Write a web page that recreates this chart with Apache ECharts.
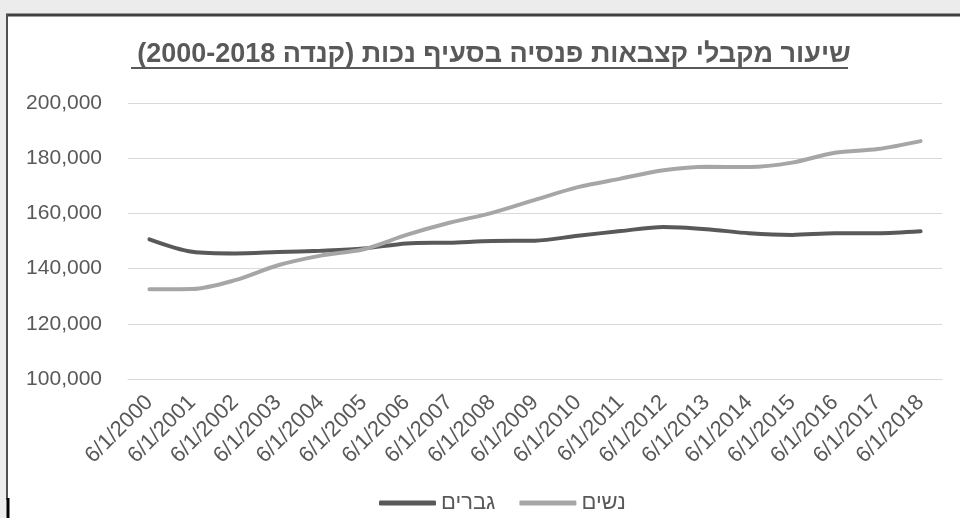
<!DOCTYPE html>
<html><head><meta charset="utf-8">
<script src="https://cdn.jsdelivr.net/npm/echarts@6/dist/echarts.min.js"></script>
<style>html,body{margin:0;padding:0;background:#fff}#c{width:960px;height:518px}</style>
</head><body><div id="c"></div>
<script>
const categories = ['6/1/2000','6/1/2001','6/1/2002','6/1/2003','6/1/2004','6/1/2005','6/1/2006','6/1/2007','6/1/2008','6/1/2009','6/1/2010','6/1/2011','6/1/2012','6/1/2013','6/1/2014','6/1/2015','6/1/2016','6/1/2017','6/1/2018'];
const men = [150600,146100,145500,146000,146500,147300,149100,149400,150000,150100,151900,153600,155100,154300,152800,152200,152800,152800,153500];
const women = [132500,132600,135800,141200,144700,147000,152200,156600,160200,164900,169500,172600,175600,176900,176800,178400,182000,183300,186200];
const seriesNames = ['גברים','נשים'];
const titleText = 'שיעור מקבלי קצבאות פנסיה בסעיף נכות (קנדה 2000-2018)';

const chart = echarts.init(document.getElementById('c'));
const font = '"Liberation Sans", Arial, sans-serif';
chart.setOption({
  backgroundColor: '#fff',
  animation: false,
  graphic: [
    {type:'rect', z:-10, shape:{x:0,y:0,width:960,height:518}, style:{fill:'#ececec'}},
    {type:'rect', z:-9, shape:{x:7,y:15,width:953,height:503}, style:{fill:'#ffffff'}},
    {type:'line', z:-8, shape:{x1:6,y1:15,x2:960,y2:15}, style:{stroke:'#404040',lineWidth:3}},
    {type:'line', z:-8, shape:{x1:7,y1:14,x2:7,y2:500}, style:{stroke:'#505050',lineWidth:2}},
    {type:'line', z:-8, shape:{x1:8,y1:498,x2:8,y2:518}, style:{stroke:'#000',lineWidth:3}},
    {type:'line', z:10, shape:{x1:131,y1:68,x2:848,y2:68}, style:{stroke:'#595959',lineWidth:2}}
  ],
  title: {
    text: titleText,
    left: 489, top: 36, textAlign: 'center',
    textStyle: {fontFamily: font, fontSize: 27, fontWeight: 'bold', color: '#595959'}
  },
  legend: {
    data: seriesNames,
    top: 487, left: 374,
    icon: 'roundRect',
    itemWidth: 57, itemHeight: 5, itemGap: 24,
    textStyle: {fontFamily: font, fontSize: 22, color: '#595959'}
  },
  grid: {left: 128, right: 18, top: 103, bottom: 139, containLabel: false},
  xAxis: {
    type: 'category', data: categories, boundaryGap: true,
    axisLine: {show: true, lineStyle: {color: '#d9d9d9'}},
    axisTick: {show: false},
    axisLabel: {rotate: 45, fontFamily: font, fontSize: 22, color: '#595959', margin: 20, interval: 0}
  },
  yAxis: {
    type: 'value', min: 100000, max: 200000, interval: 20000,
    axisLine: {show: false}, axisTick: {show: false},
    axisLabel: {fontFamily: font, fontSize: 21, color: '#595959', margin: 26,
      formatter: v => v.toLocaleString('en-US')},
    splitLine: {lineStyle: {color: '#d9d9d9', width: 1}}
  },
  series: [
    {name: seriesNames[0], type: 'line', data: men, smooth: 0.3, symbol: 'none',
     lineStyle: {color: '#595959', width: 4, cap: 'round'}, itemStyle: {color: '#595959'}},
    {name: seriesNames[1], type: 'line', data: women, smooth: 0.3, symbol: 'none',
     lineStyle: {color: '#a6a6a6', width: 4, cap: 'round'}, itemStyle: {color: '#a6a6a6'}}
  ]
});
</script></body></html>
